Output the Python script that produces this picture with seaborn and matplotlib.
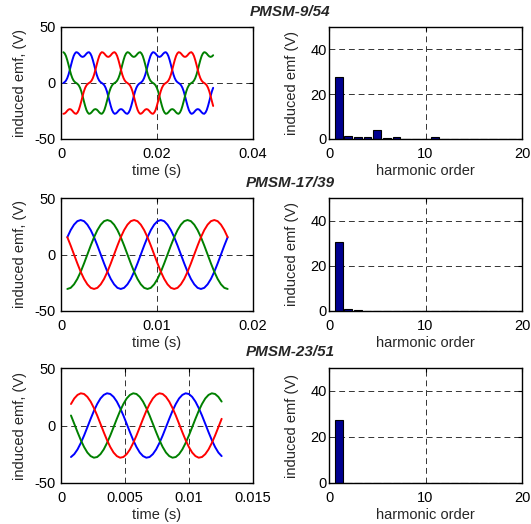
import numpy as np
import matplotlib
matplotlib.use("Agg")
import matplotlib.pyplot as plt
import seaborn as sns

sns.set_style("white")
plt.rcParams["font.family"] = ["Liberation Sans", "DejaVu Sans"]
plt.rcParams["font.size"] = 10.5

# ---------------- data ----------------
titles = ["PMSM-9/54", "PMSM-17/39", "PMSM-23/51"]

# PMSM-9/54 waveform (V), samples evenly spaced from t1_start to t1_end (s)
t1_start, t1_end = 0.0005, 0.0317
emf1_blue = [
    0, 0.8, 2.1, 4.3, 7.5, 11.7, 16.2, 20.5, 24.1, 26.4,
    27.5, 27.2, 26.2, 24.8, 23.7, 23.3, 23.7, 24.8, 26.2, 27.2,
    27.5, 26.4, 24.1, 20.5, 16.2, 11.7, 7.5, 4.3, 2.1, 0.8,
    0, -0.8, -2.1, -4.3, -7.5, -11.7, -16.2, -20.5, -24.1, -26.4,
    -27.5, -27.2, -26.2, -24.8, -23.7, -23.3, -23.7, -24.8, -26.2, -27.2,
    -27.5, -26.4, -24.1, -20.5, -16.2, -11.7, -7.5, -4.3, -2.1, -0.8,
    0, 0.8, 2.1, 4.3, 7.5, 11.7, 16.2, 20.5, 24.1, 26.4,
    27.5, 27.2, 26.2, 24.8, 23.7, 23.3, 23.7, 24.8, 26.2, 27.2,
    27.5, 26.4, 24.1, 20.5, 16.2, 11.7, 7.5, 4.3, 2.1, 0.8,
    0, -0.8, -2.1, -4.3, -7.5, -11.7, -16.2, -20.5, -24.1, -26.4,
    -27.5, -27.2, -26.2, -24.8, -23.7, -23.3, -23.7, -24.8, -26.2, -27.2,
    -27.5, -26.4, -24.1, -20.5, -16.2, -11.7, -7.5, -4.3,
]
emf1_red = [
    -27.5, -27.2, -26.2, -24.8, -23.7, -23.3, -23.7, -24.8, -26.2, -27.2,
    -27.5, -26.4, -24.1, -20.5, -16.2, -11.7, -7.5, -4.3, -2.1, -0.8,
    0, 0.8, 2.1, 4.3, 7.5, 11.7, 16.2, 20.5, 24.1, 26.4,
    27.5, 27.2, 26.2, 24.8, 23.7, 23.3, 23.7, 24.8, 26.2, 27.2,
    27.5, 26.4, 24.1, 20.5, 16.2, 11.7, 7.5, 4.3, 2.1, 0.8,
    0, -0.8, -2.1, -4.3, -7.5, -11.7, -16.2, -20.5, -24.1, -26.4,
    -27.5, -27.2, -26.2, -24.8, -23.7, -23.3, -23.7, -24.8, -26.2, -27.2,
    -27.5, -26.4, -24.1, -20.5, -16.2, -11.7, -7.5, -4.3, -2.1, -0.8,
    0, 0.8, 2.1, 4.3, 7.5, 11.7, 16.2, 20.5, 24.1, 26.4,
    27.5, 27.2, 26.2, 24.8, 23.7, 23.3, 23.7, 24.8, 26.2, 27.2,
    27.5, 26.4, 24.1, 20.5, 16.2, 11.7, 7.5, 4.3, 2.1, 0.8,
    0, -0.8, -2.1, -4.3, -7.5, -11.7, -16.2, -20.5,
]
emf1_green = [
    27.5, 26.4, 24.1, 20.5, 16.2, 11.7, 7.5, 4.3, 2.1, 0.8,
    0, -0.8, -2.1, -4.3, -7.5, -11.7, -16.2, -20.5, -24.1, -26.4,
    -27.5, -27.2, -26.2, -24.8, -23.7, -23.3, -23.7, -24.8, -26.2, -27.2,
    -27.5, -26.4, -24.1, -20.5, -16.2, -11.7, -7.5, -4.3, -2.1, -0.8,
    0, 0.8, 2.1, 4.3, 7.5, 11.7, 16.2, 20.5, 24.1, 26.4,
    27.5, 27.2, 26.2, 24.8, 23.7, 23.3, 23.7, 24.8, 26.2, 27.2,
    27.5, 26.4, 24.1, 20.5, 16.2, 11.7, 7.5, 4.3, 2.1, 0.8,
    0, -0.8, -2.1, -4.3, -7.5, -11.7, -16.2, -20.5, -24.1, -26.4,
    -27.5, -27.2, -26.2, -24.8, -23.7, -23.3, -23.7, -24.8, -26.2, -27.2,
    -27.5, -26.4, -24.1, -20.5, -16.2, -11.7, -7.5, -4.3, -2.1, -0.8,
    0, 0.8, 2.1, 4.3, 7.5, 11.7, 16.2, 20.5, 24.1, 26.4,
    27.5, 27.2, 26.2, 24.8, 23.7, 23.3, 23.7, 24.8,
]

# PMSM-17/39 waveform (V)
t2_start, t2_end = 0.00066, 0.01736
emf2_blue = [
    15.3, 21.6, 26.4, 29.5, 30.5, 29.5, 26.4, 21.6, 15.3, 7.9, 0, -7.9,
    -15.3, -21.6, -26.4, -29.5, -30.5, -29.5, -26.4, -21.6, -15.3, -7.9, 0, 7.9,
    15.3, 21.6, 26.4, 29.5, 30.5, 29.5, 26.4, 21.6, 15.3, 7.9, 0, -7.9,
    -15.3, -21.6, -26.4, -29.5, -30.5, -29.5, -26.4, -21.6, -15.3, -7.9, 0, 7.9,
    15.3,
]
emf2_green = [
    -30.5, -29.5, -26.4, -21.6, -15.3, -7.9, 0, 7.9,
    15.3, 21.6, 26.4, 29.5, 30.5, 29.5, 26.4, 21.6, 15.3, 7.9, 0, -7.9,
    -15.3, -21.6, -26.4, -29.5, -30.5, -29.5, -26.4, -21.6, -15.3, -7.9, 0, 7.9,
    15.3, 21.6, 26.4, 29.5, 30.5, 29.5, 26.4, 21.6, 15.3, 7.9, 0, -7.9,
    -15.3, -21.6, -26.4, -29.5, -30.5,
]
emf2_red = [
    15.3, 7.9, 0, -7.9, -15.3, -21.6, -26.4, -29.5,
    -30.5, -29.5, -26.4, -21.6, -15.3, -7.9, 0, 7.9,
    15.3, 21.6, 26.4, 29.5, 30.5, 29.5, 26.4, 21.6, 15.3, 7.9, 0, -7.9,
    -15.3, -21.6, -26.4, -29.5, -30.5, -29.5, -26.4, -21.6, -15.3, -7.9, 0, 7.9,
    15.3, 21.6, 26.4, 29.5, 30.5, 29.5, 26.4, 21.6, 15.3,
]

# PMSM-23/51 waveform (V)
t3_start, t3_end = 0.00078, 0.01255
emf3_red = [
    18.7, 23.5, 26.6, 28.0, 27.4, 24.9, 20.8, 15.2, 8.7, 1.5, -5.8, -12.7,
    -18.7, -23.5, -26.6, -28.0, -27.4, -24.9, -20.8, -15.2, -8.7, -1.5, 5.8, 12.7,
    18.7, 23.5, 26.6, 28.0, 27.4, 24.9, 20.8, 15.2, 8.7, 1.5, -5.8, -12.7,
    -18.7, -23.5, -26.6, -28.0, -27.4, -24.9, -20.8, -15.2, -8.7, -1.5, 5.8,
]
emf3_blue = [
    -27.4, -24.9, -20.8, -15.2, -8.7, -1.5, 5.8, 12.7,
    18.7, 23.5, 26.6, 28.0, 27.4, 24.9, 20.8, 15.2, 8.7, 1.5, -5.8, -12.7,
    -18.7, -23.5, -26.6, -28.0, -27.4, -24.9, -20.8, -15.2, -8.7, -1.5, 5.8, 12.7,
    18.7, 23.5, 26.6, 28.0, 27.4, 24.9, 20.8, 15.2, 8.7, 1.5, -5.8, -12.7,
    -18.7, -23.5, -26.6,
]
emf3_green = [
    8.7, 1.5, -5.8, -12.7, -18.7, -23.5, -26.6, -28.0,
    -27.4, -24.9, -20.8, -15.2, -8.7, -1.5, 5.8, 12.7,
    18.7, 23.5, 26.6, 28.0, 27.4, 24.9, 20.8, 15.2, 8.7, 1.5, -5.8, -12.7,
    -18.7, -23.5, -26.6, -28.0, -27.4, -24.9, -20.8, -15.2, -8.7, -1.5, 5.8, 12.7,
    18.7, 23.5, 26.6, 28.0, 27.4, 24.9, 20.8,
]

# harmonic spectra (V) for orders 1..19
orders = list(range(1, 20))
harm1 = [27.5, 1.3, 0.8, 0.8, 4.2, 0.3, 0.7, 0.2, 0.15, 0.15,
         0.7, 0.15, 0.15, 0.15, 0.15, 0.15, 0.15, 0.15, 0.15]
harm2 = [30.6, 1.1, 0.6, 0.15, 0.15, 0.15, 0.15, 0.15, 0.15, 0.15,
         0.15, 0.15, 0.15, 0.15, 0.15, 0.15, 0.15, 0.15, 0.15]
harm3 = [27.6, 0.15, 0.15, 0.15, 0.15, 0.15, 0.15, 0.15, 0.15, 0.15,
         0.15, 0.15, 0.15, 0.15, 0.15, 0.15, 0.15, 0.15, 0.15]

time_limits = [0.04, 0.02, 0.015]
time_ticks = [[0, 0.02, 0.04], [0, 0.01, 0.02], [0, 0.005, 0.01, 0.015]]
time_ticklabels = [["0", "0.02", "0.04"], ["0", "0.01", "0.02"],
                   ["0", "0.005", "0.01", "0.015"]]

waves = [
    (t1_start, t1_end, emf1_blue, emf1_green, emf1_red),
    (t2_start, t2_end, emf2_blue, emf2_green, emf2_red),
    (t3_start, t3_end, emf3_blue, emf3_green, emf3_red),
]
spectra = [harm1, harm2, harm3]

# ---------------- figure ----------------
W, H = 531, 524
fig = plt.figure(figsize=(W / 100, H / 100), dpi=100)
fig.patch.set_facecolor("white")

rows_px = [(27, 139), (198, 311), (368, 483)]
left_px = (61, 253)
right_px = (329, 522)
title_y_px = [12, 183, 352]

GRID = dict(color="0.2", linestyle=(0, (6, 4)), linewidth=0.7)
FS = 10.5


def frame(ax):
    for s in ax.spines.values():
        s.set_visible(True)
        s.set_color("black")
        s.set_linewidth(1.0)
    ax.tick_params(direction="in", length=3, width=0.8, top=True, right=True,
                   labelsize=FS, colors="black")
    ax.grid(True, **GRID)
    ax.set_axisbelow(True)


for i in range(3):
    yt, yb = rows_px[i]
    # ---- waveform axes
    axl = fig.add_axes([left_px[0] / W, 1 - yb / H,
                        (left_px[1] - left_px[0]) / W, (yb - yt) / H])
    t0, t1, b, g, r = waves[i]
    t = np.linspace(t0, t1, len(b))
    for vals, col in [(b, "#0000ff"), (g, "#008000"), (r, "#ff0000")]:
        sns.lineplot(x=t, y=vals, color=col, linewidth=1.4, ax=axl)
    axl.set_xlim(0, time_limits[i])
    axl.set_ylim(-50, 50)
    axl.set_xticks(time_ticks[i])
    axl.set_xticklabels(time_ticklabels[i])
    axl.set_yticks([-50, 0, 50])
    axl.set_yticklabels(["-50", "0", "50"])
    frame(axl)
    axl.tick_params(axis="y", pad=4)
    axl.tick_params(axis="x", pad=6)
    axl.set_xlabel("time (s)", fontsize=FS, labelpad=2)
    axl.set_ylabel("induced emf, (V)", fontsize=FS, labelpad=5)

    # ---- spectrum axes
    axr = fig.add_axes([right_px[0] / W, 1 - yb / H,
                        (right_px[1] - right_px[0]) / W, (yb - yt) / H])
    sns.barplot(x=orders, y=spectra[i], native_scale=True, width=0.8,
                color="#00008f", saturation=1, edgecolor="black",
                linewidth=0.8, errorbar=None, ax=axr)
    axr.set_xlim(0, 20)
    axr.set_ylim(0, 50)
    axr.set_xticks([0, 10, 20])
    axr.set_xticklabels(["0", "10", "20"])
    axr.set_yticks([0, 20, 40])
    axr.set_yticklabels(["0", "20", "40"])
    frame(axr)
    axr.tick_params(axis="y", pad=1.5)
    axr.tick_params(axis="x", pad=6)
    axr.set_xlabel("harmonic order", fontsize=FS, labelpad=2)
    axr.set_ylabel("induced emf (V)", fontsize=FS, labelpad=8)

    fig.text(290 / W, 1 - title_y_px[i] / H, titles[i], ha="center",
             va="center", fontsize=11, fontweight="bold", fontstyle="italic")

fig.savefig("out.png", dpi=100, facecolor="white")
